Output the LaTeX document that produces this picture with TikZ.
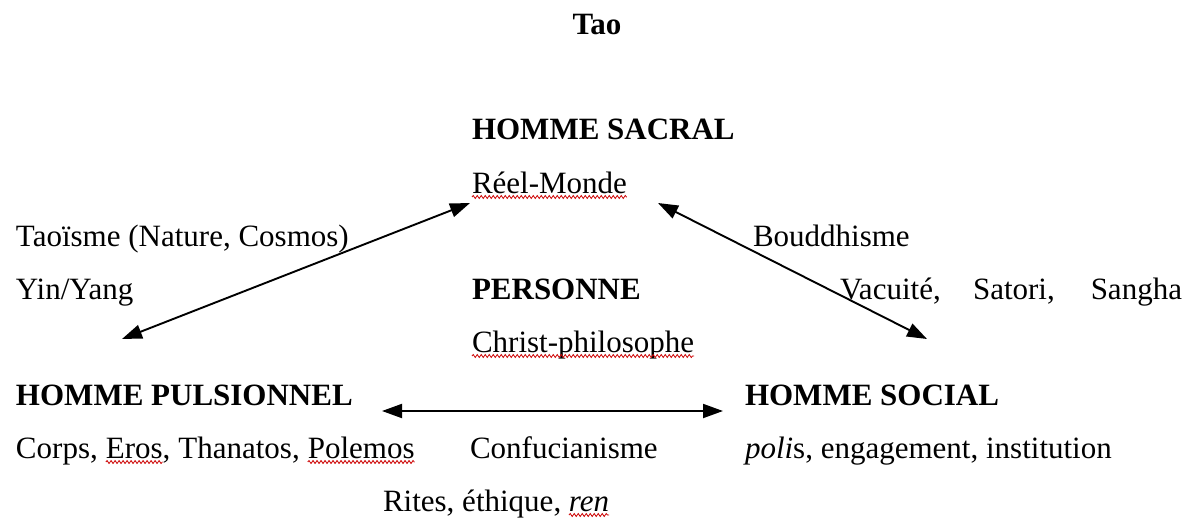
\documentclass[tikz,border=0pt]{standalone}
\usepackage{fontspec}
\setmainfont{Liberation Serif}
\usetikzlibrary{arrows.meta,decorations.pathmorphing}
\begin{document}
\begin{tikzpicture}[x=1pt,y=-1pt,
  txt/.style={anchor=base west,inner sep=0pt,outer sep=0pt,font=\fontsize{31}{37}\selectfont},
  hd/.style={txt,font=\fontsize{31}{37}\selectfont\bfseries},
  wordgap/.style={xshift=8pt},
  conn/.style={line width=1.9pt,{Triangle[length=20pt,width=14pt]}-{Triangle[length=20pt,width=14pt]}},
  squig/.style={draw=red!80!black,line width=0.8pt,decorate,
    decoration={snake,amplitude=1.5pt,segment length=4pt}}]
\useasboundingbox (0,0) rectangle (1190,519);

% title
\node[hd,anchor=base] (tao) at (597,35) {Tao};

% upper corner: sacred man
\node[hd]  (sacral)   at (472,139) {HOMME SACRAL};
\node[txt] (reel)     at (472,193) {Réel-Monde};

% side labels of the upper edges
\node[txt] (taoisme)  at (16,246)  {Taoïsme (Nature, Cosmos)};
\node[txt] (bouddh)   at (753,246) {Bouddhisme};
\node[txt] (yinyang)  at (16,299)  {Yin/Yang};
\node[txt] (vacuite)  at (840,299) {Vacuité,};
\node[txt] (satori)   at (973,299) {Satori,};
\node[txt,anchor=base east] (sangha) at (1182,299) {Sangha};

% centre: the person
\node[hd]  (personne) at (472,299) {PERSONNE};
\node[txt] (christ)   at (472,352) {Christ-philosophe};

% lower corners
\node[hd]  (pulsion)  at (16,405)  {HOMME PULSIONNEL};
\node[hd]  (social)   at (745,405) {HOMME SOCIAL};

\node[txt] (corps)    at (16,458)  {Corps,};
\node[txt,wordgap] (eros)     at (corps.base east)    {Eros};
\node[txt] (comma)    at (eros.base east)     {,};
\node[txt,wordgap] (thanatos) at (comma.base east)    {Thanatos,};
\node[txt,wordgap] (polemos)  at (thanatos.base east) {Polemos};

\node[txt] (confuc)   at (470,458) {Confucianisme};
\node[txt] (polis)    at (745,458) {\textit{poli}s, engagement, institution};

\node[txt] (rites)    at (383,511) {Rites, éthique,};
\node[txt,xshift=7.75pt] (ren) at (rites.base east) {\textit{ren}};

% spelling marks under the foreign words
\foreach \w in {reel,christ,eros,polemos,ren}
  \draw[squig] ([yshift=-4pt]\w.base west) -- ([yshift=-4pt]\w.base east);

% arrow ends
\coordinate (sacL) at (470,203);
\coordinate (pulU) at (122,339);
\coordinate (sacR) at (658,203);
\coordinate (socU) at (927,339);
\coordinate (pulR) at (382,411);
\coordinate (socL) at (723,411);

\draw[conn] (pulU) -- (sacL);
\draw[conn] (sacR) -- (socU);
\draw[conn] (pulR) -- (socL);
\end{tikzpicture}
\end{document}
